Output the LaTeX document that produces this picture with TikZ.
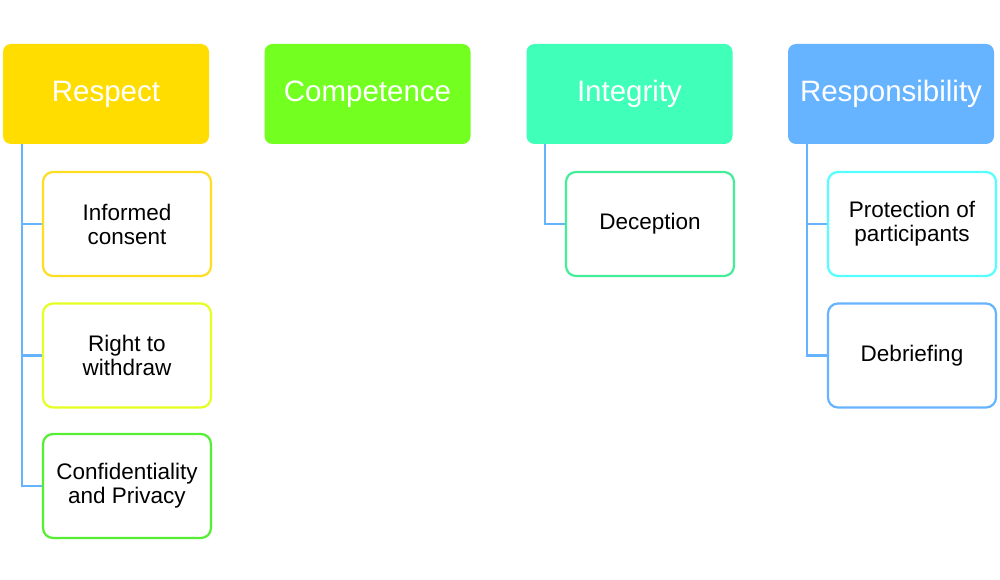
\documentclass[tikz,border=0pt]{standalone}
\usepackage{fontspec}
\setmainfont{Liberation Sans}
\begin{document}
\begin{tikzpicture}[x=1pt,y=-1pt,
  head/.style={rounded corners=8pt, minimum width=206pt, minimum height=100pt, inner sep=0pt, font=\fontsize{29.5}{32}\selectfont, text=white, draw=none},
  child/.style={rounded corners=10pt, minimum width=168pt, minimum height=104pt, inner sep=0pt, line width=2.2pt, fill=white, font=\fontsize{22.5}{24}\selectfont, align=center},
  conn/.style={draw=cline, line width=2.2pt}]
\definecolor{cresp}{HTML}{FFDD00}
\definecolor{ccomp}{HTML}{73FF1F}
\definecolor{cint}{HTML}{40FFB8}
\definecolor{cres}{HTML}{66B3FF}
\definecolor{cline}{HTML}{66B3FF}
\definecolor{cinf}{HTML}{FFDD22}
\definecolor{cright}{HTML}{E5FF22}
\definecolor{cconf}{HTML}{55EE33}
\definecolor{cdec}{HTML}{44EE99}
\definecolor{cprot}{HTML}{55FFFF}
\definecolor{cdeb}{HTML}{66B3FF}
\useasboundingbox (0,0) rectangle (1000,580);
\node[head, fill=cresp] (respect) at (106,94) {Respect};
\node[head, fill=ccomp] (comp) at (367.5,94) {Competence};
\node[head, fill=cint] (integ) at (629.5,94) {Integrity};
\node[head, fill=cres] (resp) at (891,94) {Responsibility};
\node[child, draw=cinf] (inf) at (127,224) {Informed\\consent};
\node[child, draw=cright] (right) at (127,355.5) {Right to\\withdraw};
\node[child, draw=cconf] (conf) at (127,486) {Confidentiality\\and Privacy};
\node[child, draw=cdec] (dec) at (650,224) {Deception};
\node[child, draw=cprot] (prot) at (912,224) {Protection of\\participants};
\node[child, draw=cdeb] (deb) at (912,355.5) {Debriefing};
\coordinate (r0) at (22,144);
\coordinate (i0) at (545,144);
\coordinate (p0) at (807,144);
\draw[conn] (r0) |- (inf.west);
\draw[conn] (r0) |- (right.west);
\draw[conn] (r0) |- (conf.west);
\draw[conn] (i0) |- (dec.west);
\draw[conn] (p0) |- (prot.west);
\draw[conn] (p0) |- (deb.west);
\end{tikzpicture}
\end{document}
